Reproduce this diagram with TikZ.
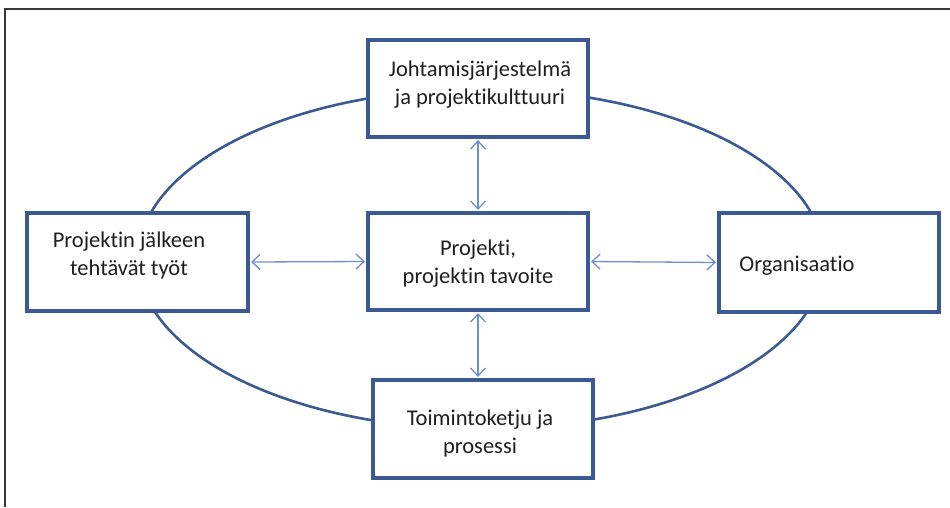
\documentclass[tikz,border=0pt]{standalone}
\usepackage{fontspec}
\setmainfont{Carlito}[Ligatures=NoCommon]
\usetikzlibrary{arrows.meta}
\definecolor{boxblue}{HTML}{3B5A94}
\definecolor{arrowblue}{HTML}{6D8FCF}
\definecolor{textdark}{HTML}{221E1F}
\definecolor{framegray}{HTML}{3A3A3A}
\begin{document}
\begin{tikzpicture}[x=1pt,y=-1pt,
  box/.style={draw=boxblue, line width=3.2pt, fill=white, inner sep=0pt},
  lbl/.style={text=textdark, font=\fontsize{22.5}{28}\selectfont, align=center, inner sep=0pt},
  link/.style={draw=arrowblue, line width=1.3pt, {Straight Barb[length=8pt,width=15pt]}-{Straight Barb[length=8pt,width=15pt]}, shorten <=1.5pt, shorten >=1.5pt}]
  \useasboundingbox (0,0) rectangle (950,507);
  % frame
  \draw[framegray, line width=2pt] (5,507) -- (5,9) -- (950,9);
  % surrounding ellipse
  \draw[boxblue, line width=2.6pt] (481,259) ellipse [x radius=343, y radius=170];
  % boxes
  \node[box, minimum width=220pt, minimum height=97pt] (top) at (478,88.5) {};
  \node[box, minimum width=220pt, minimum height=97pt] (mid) at (478,261.5) {};
  \node[box, minimum width=220pt, minimum height=98pt] (bot) at (483,429) {};
  \node[box, minimum width=221pt, minimum height=98pt] (left) at (137.5,262) {};
  \node[box, minimum width=220pt, minimum height=99pt] (right) at (829,262.5) {};
  % texts
  \node[lbl] at (480,85) {Johtamisjärjestelmä\\ja projektikulttuuri};
  \node[lbl] at (478,264) {Projekti,\\projektin tavoite};
  \node[lbl] at (480,433) {Toimintoketju ja\\prosessi};
  \node[lbl] at (129,255) {Projektin jälkeen\\tehtävät työt};
  \node[lbl] at (797,266) {Organisaatio};
  % connectors
  \draw[link] (top.south) -- (mid.north);
  \draw[link] (mid.south) -- ([xshift=-5pt]bot.north);
  \draw[link] (left.east) -- (mid.west);
  \draw[link] (mid.east) -- (right.west);
\end{tikzpicture}
\end{document}
